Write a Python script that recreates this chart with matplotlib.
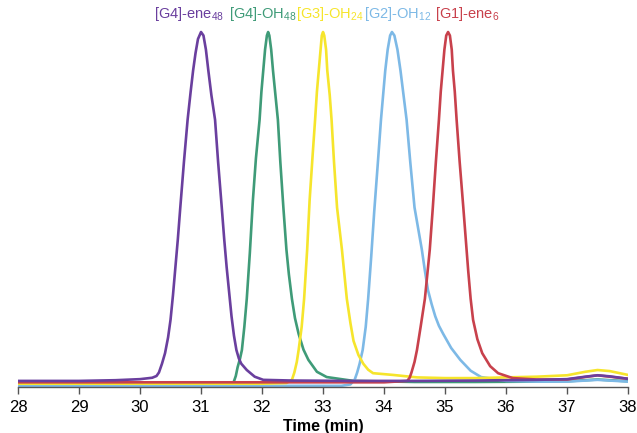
import matplotlib
matplotlib.use("Agg")
import matplotlib.pyplot as plt

plt.rcParams['font.family'] = ['Liberation Sans', 'DejaVu Sans']
plt.rcParams['mathtext.fontset'] = 'custom'
plt.rcParams['mathtext.rm'] = 'Liberation Sans'
plt.rcParams['mathtext.it'] = 'Liberation Sans:italic'
plt.rcParams['mathtext.bf'] = 'Liberation Sans:bold'

# traces: time (min), normalised signal
ene48_t = [28.0, 29.0, 29.6, 30.0, 30.2, 30.27, 30.31, 30.36, 30.41, 30.46, 30.5, 30.54, 30.58,
           30.62, 30.66, 30.72, 30.78, 30.83, 30.87, 30.91, 30.95, 31.0, 31.04, 31.08, 31.12,
           31.17, 31.23, 31.28, 31.34, 31.38, 31.42, 31.46, 31.5, 31.54, 31.58, 31.62, 31.66,
           31.75, 31.88, 32.02, 32.5, 33.5, 34.5, 35.5, 36.5, 37.0, 37.3, 37.5, 37.7, 38.0]
ene48_v = [0.006, 0.006, 0.008, 0.011, 0.015, 0.02, 0.03, 0.055, 0.085, 0.13, 0.18, 0.25, 0.33,
           0.41, 0.5, 0.63, 0.75, 0.83, 0.89, 0.94, 0.98, 1.0, 0.99, 0.95, 0.89,
           0.82, 0.75, 0.63, 0.5, 0.41, 0.33, 0.26, 0.19, 0.135, 0.094, 0.07, 0.055,
           0.037, 0.018, 0.009, 0.007, 0.006, 0.006, 0.007, 0.009, 0.011, 0.018, 0.022, 0.019, 0.012]

oh48_t = [28.0, 31.0, 31.5, 31.54, 31.57, 31.6, 31.64, 31.67, 31.71, 31.75, 31.8, 31.85, 31.9,
          31.96, 31.99, 32.02, 32.05, 32.08, 32.1, 32.12, 32.15, 32.18, 32.22, 32.26, 32.3,
          32.35, 32.4, 32.44, 32.49, 32.54, 32.6, 32.68, 32.76, 32.9, 33.06, 33.5, 34.5, 35.5,
          36.5, 37.0, 37.5, 38.0]
oh48_v = [-0.006, -0.006, -0.005, 0.005, 0.02, 0.045, 0.07, 0.094, 0.16, 0.24, 0.37, 0.52, 0.64,
          0.75, 0.83, 0.89, 0.95, 0.99, 1.0, 0.99, 0.95, 0.89, 0.82, 0.75, 0.63,
          0.5, 0.38, 0.31, 0.24, 0.185, 0.14, 0.095, 0.066, 0.032, 0.017, 0.006, 0.003, 0.003,
          0.004, 0.005, 0.01, 0.005]

oh24_t = [28.0, 32.0, 32.4, 32.49, 32.53, 32.57, 32.6, 32.65, 32.69, 32.74, 32.78, 32.83, 32.87,
          32.9, 32.93, 32.96, 32.98, 33.0, 33.02, 33.05, 33.07, 33.11, 33.14, 33.18, 33.23,
          33.27, 33.31, 33.35, 33.39, 33.45, 33.5, 33.58, 33.66, 33.74, 33.82, 34.15, 34.54,
          35.0, 35.5, 36.0, 36.5, 37.0, 37.3, 37.5, 37.7, 38.0]
oh24_v = [-0.002, -0.002, 0.0, 0.009, 0.03, 0.06, 0.094, 0.16, 0.24, 0.38, 0.52, 0.65, 0.75,
          0.83, 0.89, 0.95, 0.99, 1.0, 0.99, 0.95, 0.89, 0.82, 0.75, 0.63, 0.5,
          0.44, 0.38, 0.31, 0.24, 0.17, 0.12, 0.08, 0.055, 0.038, 0.028, 0.023, 0.016,
          0.014, 0.014, 0.016, 0.018, 0.022, 0.032, 0.037, 0.034, 0.023]

oh12_t = [28.0, 33.3, 33.45, 33.52, 33.56, 33.6, 33.65, 33.7, 33.74, 33.79, 33.84, 33.9, 33.95,
          33.99, 34.02, 34.06, 34.1, 34.13, 34.17, 34.22, 34.27, 34.32, 34.37, 34.43, 34.5,
          34.56, 34.62, 34.67, 34.72, 34.78, 34.84, 34.9, 34.97, 35.1, 35.25, 35.42, 35.59,
          36.0, 36.5, 37.0, 37.5, 38.0]
oh12_v = [-0.008, -0.008, -0.004, 0.01, 0.03, 0.055, 0.094, 0.16, 0.24, 0.36, 0.49, 0.63, 0.75,
          0.83, 0.89, 0.95, 0.99, 1.0, 0.99, 0.95, 0.89, 0.82, 0.75, 0.63, 0.5,
          0.44, 0.38, 0.32, 0.265, 0.225, 0.19, 0.163, 0.14, 0.1, 0.066, 0.035, 0.017,
          0.006, 0.004, 0.004, 0.009, 0.004]

ene6_t = [28.0, 34.0, 34.38, 34.42, 34.45, 34.5, 34.54, 34.6, 34.67, 34.71, 34.75, 34.8, 34.85,
          34.9, 34.93, 34.96, 34.99, 35.02, 35.05, 35.08, 35.11, 35.13, 35.16, 35.19, 35.24,
          35.3, 35.34, 35.38, 35.42, 35.46, 35.53, 35.61, 35.74, 35.87, 36.11, 36.5, 37.0,
          37.5, 38.0]
ene6_v = [0.002, 0.002, 0.006, 0.015, 0.03, 0.06, 0.094, 0.16, 0.24, 0.31, 0.38, 0.5, 0.63,
          0.75, 0.83, 0.89, 0.95, 0.99, 1.0, 0.99, 0.95, 0.89, 0.83, 0.75, 0.63,
          0.5, 0.41, 0.32, 0.24, 0.18, 0.125, 0.085, 0.048, 0.028, 0.014, 0.01, 0.01,
          0.022, 0.012]

names = ["[G4]-ene", "[G4]-OH", "[G3]-OH", "[G2]-OH", "[G1]-ene"]
subs = ["48", "48", "24", "12", "6"]
colors = ["#6a3f9e", "#3f9b78", "#f6e52c", "#7db9e6", "#c8414c"]
label_t = [30.80, 32.01, 33.11, 34.22, 35.37]

fig = plt.figure(figsize=(6.37, 4.33), dpi=100)
ax = fig.add_axes([0.0283, 0.1062, 0.9576, 0.8938])

series = [(ene48_t, ene48_v), (oh48_t, oh48_v), (oh24_t, oh24_v), (oh12_t, oh12_v), (ene6_t, ene6_v)]
# draw order: purple last so it sits on top at the baseline
for i in [1, 3, 2, 4, 0]:
    t, v = series[i]
    ax.plot(t, v, color=colors[i], lw=1.9, solid_joinstyle="round", solid_capstyle="round")

for i in range(5):
    lab = names[i] + r"$_{\mathregular{" + subs[i] + "}}$"
    ax.text(label_t[i], 1.025, lab, color=colors[i], fontsize=10.5, ha="center", va="bottom")

ax.set_xlim(28, 38)
ax.set_ylim(-0.0114, 1.0912)
ax.set_xticks(range(28, 39))
ax.tick_params(axis="x", direction="out", length=5, width=1, color="#555555", labelsize=12, pad=4)
ax.set_yticks([])
for s in ["left", "right", "top"]:
    ax.spines[s].set_visible(False)
ax.spines["bottom"].set_color("#555555")
ax.spines["bottom"].set_linewidth(1)
ax.set_xlabel("Time (min)", fontsize=11.5, fontweight="bold", labelpad=3)

fig.savefig("out.png", dpi=100)
